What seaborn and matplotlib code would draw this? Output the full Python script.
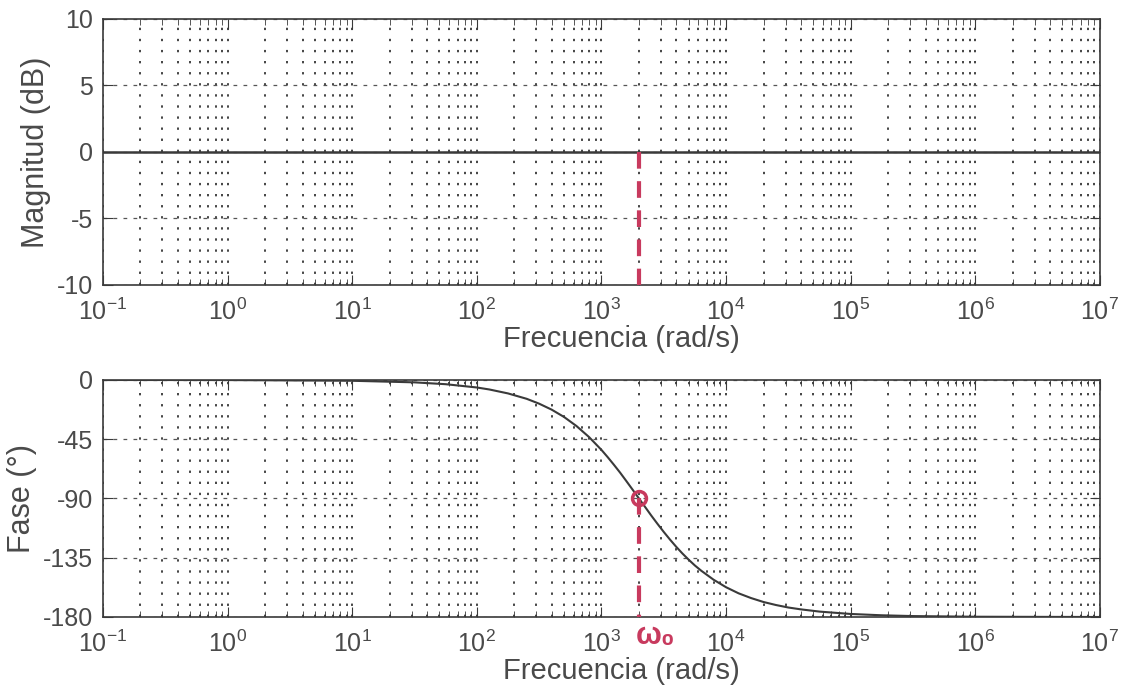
import numpy as np
import pandas as pd
import matplotlib
matplotlib.use("Agg")
import matplotlib.pyplot as plt
from matplotlib.ticker import LogLocator, FixedLocator, NullFormatter
import seaborn as sns

# -------------------------
# Data
# -------------------------

freq_mag = [1e-1, 1e7]
mag_db = [0, 0]

# log10 of frequency, and phase read at each point
logw = [-1, 0, 1, 1.5, 1.75, 2, 2.1, 2.25, 2.4, 2.5, 2.6, 2.7, 2.8, 2.9,
        3.0, 3.05, 3.1, 3.15, 3.2, 3.25, 3.301, 3.35, 3.4, 3.45, 3.5, 3.55,
        3.6, 3.65, 3.7, 3.75, 3.8, 3.9, 4.0, 4.1, 4.2, 4.3, 4.4, 4.5, 4.6,
        4.75, 5.0, 5.25, 5.5, 6.0, 7.0]
phase_deg = [0, -0.06, -0.6, -1.8, -3.2, -5.7, -7.2, -10.2, -14.3, -18.0,
             -22.5, -28.1, -35.0, -43.3, -53.1, -58.6, -64.4, -70.4, -76.8,
             -83.3, -90, -96.4, -103.0, -109.3, -115.4, -121.2, -126.7,
             -131.8, -136.5, -140.9, -144.8, -151.7, -157.4, -162.0, -165.6,
             -168.6, -170.9, -172.8, -174.2, -175.9, -177.7, -178.7, -179.3,
             -179.8, -180]

w0 = 2000
w0_label = "ω₀"

mag_ticks = [-10, -5, 0, 5, 10]
phase_ticks = [-180, -135, -90, -45, 0]
xlabel = "Frecuencia (rad/s)"

df_mag = pd.DataFrame({"freq": freq_mag, "mag": mag_db})
df_phase = pd.DataFrame({"freq": np.power(10.0, logw), "phase": phase_deg})

# -------------------------
# Style
# -------------------------

sns.set_style("ticks")
plt.rcParams["font.family"] = ["Liberation Sans", "DejaVu Sans"]

text_col = "#4a4a4a"
line_col = "#3a3a3a"
red = "#c83a5e"

fig = plt.figure(figsize=(11.24, 6.88), dpi=100)
ax1 = fig.add_axes([0.0916, 0.5858, 0.887, 0.3866])
ax2 = fig.add_axes([0.0916, 0.1032, 0.887, 0.3445])


def style_axis(ax, yticks):
    ax.set_xscale("log")
    ax.set_xlim(1e-1, 1e7)
    ax.set_ylim(yticks[0], yticks[-1])
    ax.set_yticks(yticks)
    ax.set_yticklabels([str(t) for t in yticks])
    ax.xaxis.set_major_locator(FixedLocator([10.0**k for k in range(-1, 8)]))
    ax.xaxis.set_minor_locator(LogLocator(base=10, subs=np.arange(2, 10), numticks=20))
    ax.xaxis.set_minor_formatter(NullFormatter())
    ax.grid(True, which="major", axis="y", linestyle=(0, (3, 5)), color="#555555", linewidth=0.9)
    ax.grid(True, which="both", axis="x", linestyle=(0, (1.2, 4.5)), color="#444444", linewidth=1.4)
    ax.tick_params(which="both", direction="in", top=True, right=True,
                   labelsize=18, colors=line_col, labelcolor=text_col)
    ax.tick_params(axis="x", which="major", length=7, pad=10)
    ax.tick_params(axis="y", which="major", length=7, pad=7)
    ax.tick_params(which="minor", length=4)
    for s in ax.spines.values():
        s.set_visible(True)
        s.set_color(line_col)
        s.set_linewidth(1.2)
    ax.set_xlabel(xlabel, fontsize=21, color=text_col, labelpad=0)
    ax.xaxis.label.set_x(0.52)


# -------------------------
# Magnitude
# -------------------------

sns.lineplot(data=df_mag, x="freq", y="mag", ax=ax1, color=line_col, linewidth=1.8)
ax1.plot([w0, w0], [0, -10], color=red, linestyle=(0, (4, 3)), linewidth=3, zorder=5)
style_axis(ax1, mag_ticks)
ax1.set_ylabel("Magnitud (dB)", fontsize=22, color=text_col, labelpad=4)

# -------------------------
# Phase
# -------------------------

sns.lineplot(data=df_phase, x="freq", y="phase", ax=ax2, color=line_col, linewidth=1.5)
ax2.plot([w0, w0], [-90, -180], color=red, linestyle=(0, (4, 3)), linewidth=3, zorder=5)
ax2.plot([w0], [-90], marker="o", markersize=10, markerfacecolor="none",
         markeredgecolor=red, markeredgewidth=2.5, zorder=6)
style_axis(ax2, phase_ticks)
ax2.set_ylabel("Fase (°)", fontsize=22, color=text_col, labelpad=4)
ax2.text(2700, -183, w0_label, color=red, fontsize=22, fontweight="bold",
         ha="center", va="top", clip_on=False)

fig.savefig("out.png", dpi=100)
